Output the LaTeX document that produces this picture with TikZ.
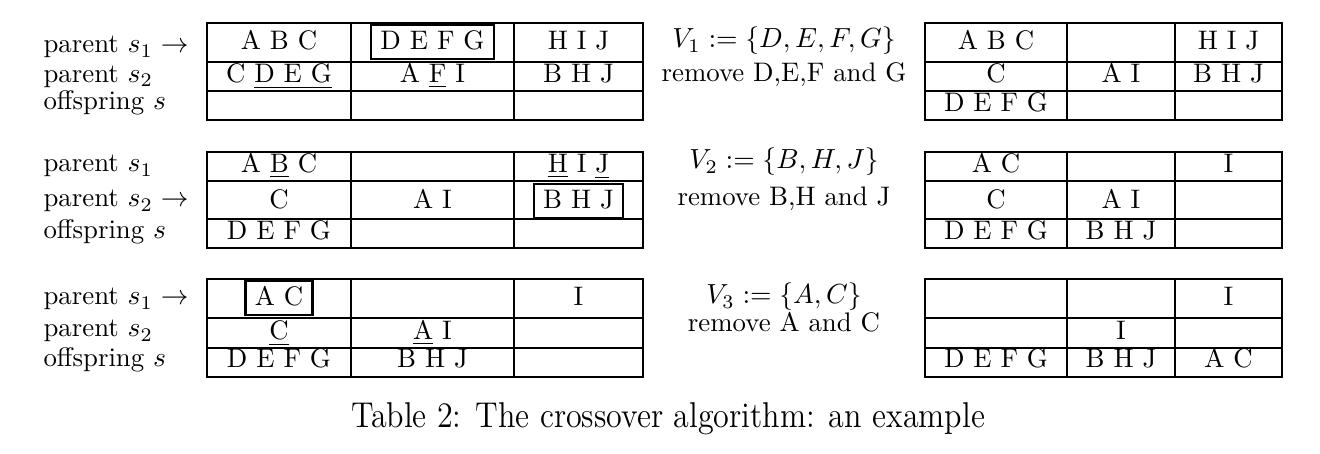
\documentclass[tikz,border=0pt]{standalone}
\usepackage{graphicx}
\begin{document}
\begin{tikzpicture}[x=0.362pt,y=-0.362pt,
  grid/.style={line width=0.8pt},
  txt/.style={inner sep=0pt, font=\fontsize{9.7}{11.6}\selectfont},
  cell/.style={txt, anchor=base},
  lab/.style={txt, anchor=base west},
  mid/.style={txt, anchor=base},
  selbox/.style={txt, draw, line width=0.8pt, anchor=base, inner xsep=3.4pt, inner ysep=0pt,
     text height=9.0pt, text depth=3.4pt},
  captext/.style={anchor=base, inner sep=0pt, font=\fontsize{11.6}{14}\selectfont}]
\useasboundingbox (0,0) rectangle (1320,454);

% table grids
\foreach \t/\ra/\rb/\bo in {23/62/91/120, 152/181/219/248, 279/318/348/377}{
  \draw[grid] (207,\t) rectangle (643,\bo);
  \draw[grid] (207,\ra) -- (643,\ra) (207,\rb) -- (643,\rb)
              (351,\t) -- (351,\bo) (514,\t) -- (514,\bo);
  \draw[grid] (925,\t) rectangle (1282,\bo);
  \draw[grid] (925,\ra) -- (1282,\ra) (925,\rb) -- (1282,\rb)
              (1067,\t) -- (1067,\bo) (1175,\t) -- (1175,\bo);
}

% ---------- block 1 ----------
\node[lab] (b1s1) at (43,53) {parent $s_1\rightarrow$};
\node[lab] (b1s2) at (43,82.5) {parent $s_2$};
\node[lab] (b1o)  at (43,110) {offspring $s$};
\node[cell] (b1l11) at (279,50) {A B C};
\node[selbox] (b1box) at (432.5,50) {D E F G};
\node[cell] (b1l13) at (578.5,50) {H I J};
\node[cell] (b1l21) at (279,83) {C \underline{D E G}};
\node[cell] (b1l22) at (432.5,83) {A \underline{F} I};
\node[cell] (b1l23) at (578.5,83) {B H J};
\node[mid] (b1v) at (784,48) {$V_1 := \{D,E,F,G\}$};
\node[mid] (b1r) at (784,82) {remove D,E,F and G};
\node[cell] (b1r11) at (996,50) {A B C};
\node[cell] (b1r13) at (1228.5,50) {H I J};
\node[cell] (b1r21) at (996,83) {C};
\node[cell] (b1r22) at (1121,83) {A I};
\node[cell] (b1r23) at (1228.5,83) {B H J};
\node[cell] (b1r31) at (996,112) {D E F G};

% ---------- block 2 ----------
\node[lab] (b2s1) at (43,172) {parent $s_1$};
\node[lab] (b2s2) at (43,207) {parent $s_2\rightarrow$};
\node[lab] (b2o)  at (43,239) {offspring $s$};
\node[cell] (b2l11) at (279,173) {A \underline{B} C};
\node[cell] (b2l13) at (578.5,173) {\underline{H} I \underline{J}};
\node[cell] (b2l21) at (279,209) {C};
\node[cell] (b2l22) at (432.5,209) {A I};
\node[selbox] (b2box) at (578.5,209) {B H J};
\node[cell] (b2l31) at (279,240) {D E F G};
\node[mid] (b2v) at (784,169) {$V_2 := \{B,H,J\}$};
\node[mid] (b2r) at (784,206) {remove B,H and J};
\node[cell] (b2r11) at (996,173) {A C};
\node[cell] (b2r13) at (1228.5,173) {I};
\node[cell] (b2r21) at (996,209) {C};
\node[cell] (b2r22) at (1121,209) {A I};
\node[cell] (b2r31) at (996,240) {D E F G};
\node[cell] (b2r32) at (1121,240) {B H J};

% ---------- block 3 ----------
\node[lab] (b3s1) at (43,305) {parent $s_1\rightarrow$};
\node[lab] (b3s2) at (43,337) {parent $s_2$};
\node[lab] (b3o)  at (43,367) {offspring $s$};
\node[selbox] (b3box) at (279,306) {A C};
\node[cell] (b3l13) at (578.5,306) {I};
\node[cell] (b3l21) at (279,340) {\underline{C}};
\node[cell] (b3l22) at (432.5,340) {\underline{A} I};
\node[cell] (b3l31) at (279,368) {D E F G};
\node[cell] (b3l32) at (432.5,368) {B H J};
\node[mid] (b3v) at (784,304) {$V_3 := \{A,C\}$};
\node[mid] (b3r) at (784,332) {remove A and C};
\node[cell] (b3r13) at (1228.5,306) {I};
\node[cell] (b3r22) at (1121,340) {I};
\node[cell] (b3r31) at (996,368) {D E F G};
\node[cell] (b3r32) at (1121,368) {B H J};
\node[cell] (b3r33) at (1228.5,368) {A C};

% caption
\node[captext] (caption) at (668,428) {\scalebox{1}[1.12]{Table 2: The crossover algorithm: an example}};
\end{tikzpicture}
\end{document}
